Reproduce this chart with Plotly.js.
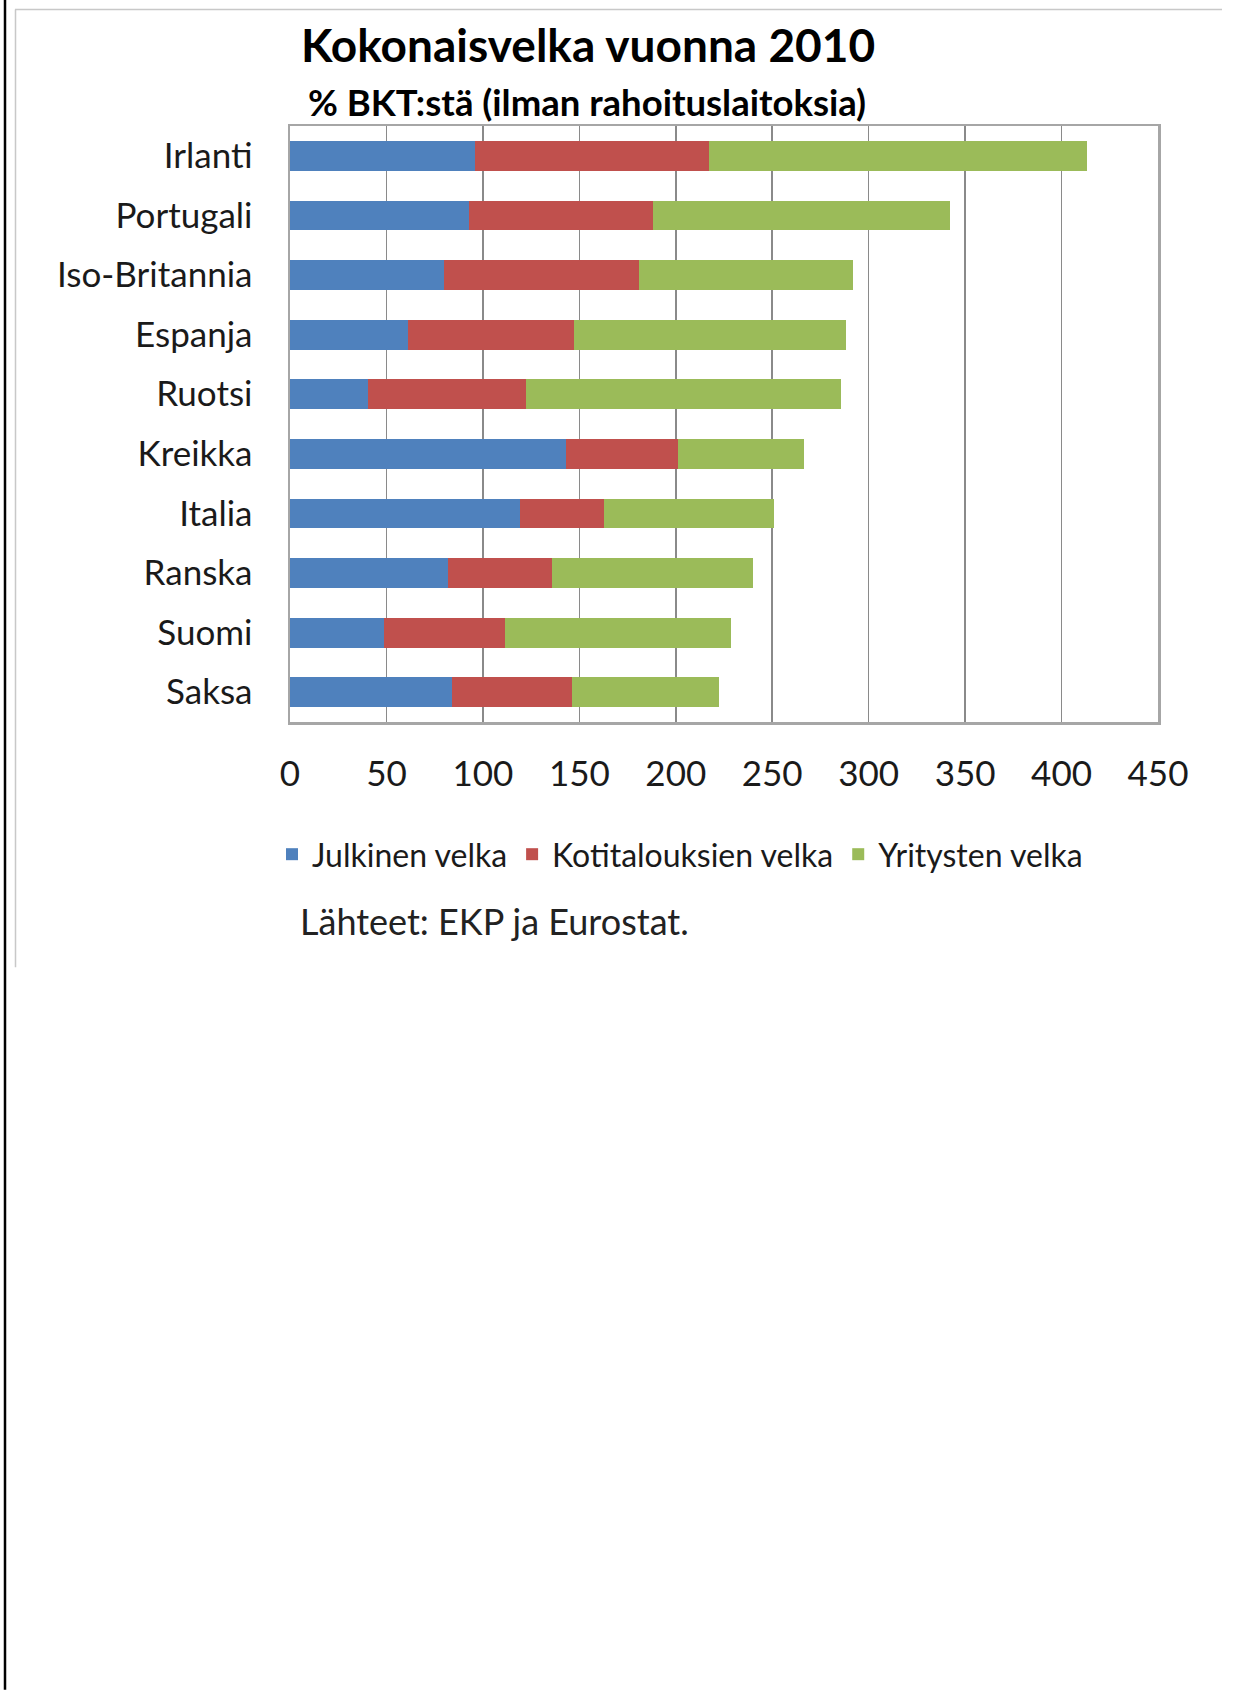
<!DOCTYPE html>
<html>
<head>
<meta charset="utf-8">
<script src="https://cdn.plot.ly/plotly-3.0.1.min.js"></script>
<style>
  html, body { margin: 0; padding: 0; background: #ffffff; }
  #chart { width: 1250px; height: 1691px; }
</style>
</head>
<body>
<div id="chart"></div>
<script>
// Data (% of GDP, 2010)
const countries = ["Irlanti", "Portugali", "Iso-Britannia", "Espanja", "Ruotsi",
                   "Kreikka", "Italia", "Ranska", "Suomi", "Saksa"];
const julkinenVelka       = [96, 93, 80, 61, 40.5, 143, 119, 82, 48.5, 84];
const kotitalouksienVelka = [121, 95, 101, 86, 82, 58, 44, 54, 63, 62];
const yritystenVelka      = [196, 154, 111, 141, 163, 65.5, 88, 104, 117, 76.5];
const seriesNames = ["Julkinen velka", "Kotitalouksien velka", "Yritysten velka"];
const xTicks = [0, 50, 100, 150, 200, 250, 300, 350, 400, 450];

const colors = ["#4F81BD", "#C0504D", "#9BBB59"];
const FONT = "Lato, 'Open Sans', sans-serif";

// layout geometry (px)
const W = 1250, H = 1691;
const L = 290, R = 1158, T = 126, B = 722.5;
const pw = R - L, ph = B - T;
const px = v => (v - L) / pw;
const py = v => (B - v) / ph;

const values = [julkinenVelka, kotitalouksienVelka, yritystenVelka];
const traces = values.map((vals, i) => ({
  type: "bar",
  orientation: "h",
  name: seriesNames[i],
  y: countries,
  x: vals,
  marker: { color: colors[i], line: { width: 0 } },
  hoverinfo: "skip"
}));

const layout = {
  width: W, height: H,
  margin: { l: L, r: W - R, t: T, b: H - B, pad: 0 },
  paper_bgcolor: "#ffffff",
  plot_bgcolor: "#ffffff",
  barmode: "stack",
  bargap: 0.5,
  showlegend: true,
  font: { family: FONT, color: "#1a1a1a" },
  title: {
    text: "<b>Kokonaisvelka vuonna 2010</b>",
    xref: "container", yref: "container",
    x: 588 / W, xanchor: "center",
    y: 1 - 46 / H, yanchor: "middle",
    font: { family: FONT, size: 46, color: "#000000" }
  },
  xaxis: {
    range: [0, 450],
    tickvals: xTicks,
    ticktext: xTicks.map(String),
    showgrid: true, gridcolor: "#8a8a8a", gridwidth: 1.5,
    showline: true, mirror: true, linecolor: "#a6a6a6", linewidth: 2.5,
    ticks: "", zeroline: false,
    ticklabelstandoff: 19,
    tickfont: { family: FONT, size: 35, color: "#1a1a1a" },
    fixedrange: true
  },
  yaxis: {
    type: "category",
    categoryorder: "array",
    categoryarray: countries,
    autorange: "reversed",
    showgrid: false,
    showline: true, mirror: true, linecolor: "#a6a6a6", linewidth: 2.5,
    ticks: "",
    ticklabelstandoff: 28,
    tickfont: { family: FONT, size: 35, color: "#1a1a1a" },
    fixedrange: true
  },
  legend: {
    orientation: "h",
    x: px(272), xanchor: "left",
    y: py(855), yanchor: "middle",
    font: { family: FONT, size: 32, color: "#1a1a1a" },
    itemwidth: 30,
    bgcolor: "rgba(0,0,0,0)",
    traceorder: "normal"
  },
  annotations: [
    {
      text: "<b>% BKT:stä (ilman rahoituslaitoksia)</b>",
      xref: "paper", yref: "paper",
      x: px(587), y: py(102), xanchor: "center", yanchor: "middle",
      showarrow: false,
      font: { family: FONT, size: 36.5, color: "#000000" }
    },
    {
      text: "Lähteet: EKP ja Eurostat.",
      xref: "paper", yref: "paper",
      x: px(298), y: py(922), xanchor: "left", yanchor: "middle",
      showarrow: false,
      font: { family: FONT, size: 36, color: "#222222" }
    }
  ],
  shapes: [
    { type: "line", xref: "paper", yref: "paper",
      x0: px(5), x1: px(5), y0: py(0), y1: py(H),
      line: { color: "#000000", width: 2.5 } },
    { type: "line", xref: "paper", yref: "paper",
      x0: px(15.5), x1: px(15.5), y0: py(9.5), y1: py(968),
      line: { color: "#c8c8c8", width: 1.5 } },
    { type: "line", xref: "paper", yref: "paper",
      x0: px(15), x1: px(1222), y0: py(9.5), y1: py(9.5),
      line: { color: "#c8c8c8", width: 1.5 } }
  ]
};

Plotly.newPlot("chart", traces, layout, { displayModeBar: false, staticPlot: true });
</script>
</body>
</html>
